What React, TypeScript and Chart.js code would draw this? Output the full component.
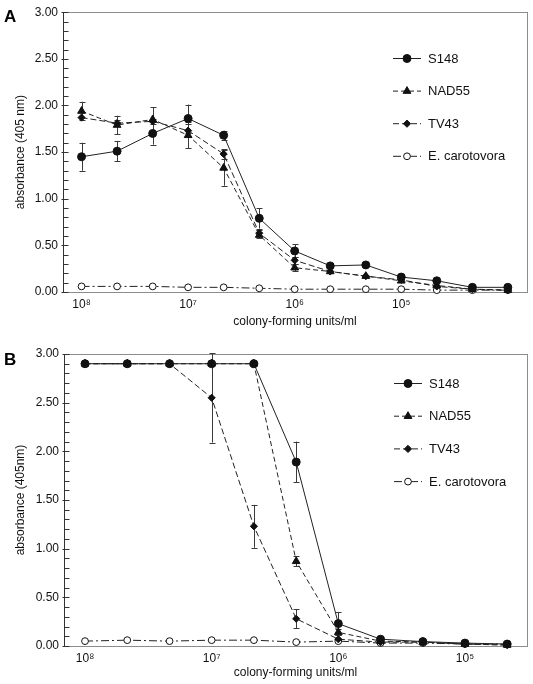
import React, { useEffect, useRef } from "react";
import { Chart, registerables } from "chart.js";
import { drawPoint } from "chart.js/helpers";

Chart.register(...registerables);

// ---------------- data ----------------
const seriesNames = ["S148", "NAD55", "TV43", "E. carotovora"];

// colony-forming units/ml (x categories)
const cfuA = [1e8, 4.64e7, 2.15e7, 1e7, 4.64e6, 2.15e6, 1e6, 4.64e5, 2.15e5, 1e5, 4.64e4, 2.15e4, 1e4];
const cfuB = [1e8, 4.64e7, 2.15e7, 1e7, 4.64e6, 2.15e6, 1e6, 4.64e5, 2.15e5, 1e5, 4.64e4];

const xTickValues = [1e8, 1e7, 1e6, 1e5];
const xTickLabels = ["10⁸", "10⁷", "10⁶", "10⁵"];
const yMajorLabels = ["0.00", "0.50", "1.00", "1.50", "2.00", "2.50", "3.00"];

// Panel A absorbance
const s148A = [1.45, 1.51, 1.70, 1.86, 1.68, 0.79, 0.44, 0.28, 0.29, 0.16, 0.12, 0.05, 0.05];
const nad55A = [1.94, 1.79, 1.85, 1.68, 1.33, 0.61, 0.26, 0.22, 0.17, 0.12, 0.07, 0.03, 0.02];
const tv43A = [1.87, 1.81, 1.83, 1.73, 1.48, 0.63, 0.34, 0.22, 0.17, 0.13, 0.06, 0.03, 0.02];
const ecA = [0.06, 0.06, 0.06, 0.05, 0.05, 0.04, 0.03, 0.03, 0.03, 0.03, 0.02, 0.02, 0.02];
const s148ErrA = [0.15, 0.11, 0.12, 0.15, 0.05, 0.11, 0.07, 0, 0, 0, 0, 0, 0];
const nad55ErrA = [0.10, 0.10, 0.13, 0.14, 0.19, 0.03, 0.04, 0, 0, 0, 0, 0, 0];
const tv43ErrA = [0, 0.03, 0.03, 0.07, 0.05, 0.03, 0.04, 0, 0, 0, 0, 0, 0];
const ecErrA = [0, 0, 0, 0, 0, 0, 0, 0, 0, 0, 0, 0, 0];

// Panel B absorbance
const s148B = [2.90, 2.90, 2.90, 2.90, 2.90, 1.89, 0.23, 0.07, 0.045, 0.03, 0.02];
const nad55B = [2.90, 2.90, 2.90, 2.90, 2.90, 0.87, 0.14, 0.05, 0.04, 0.02, 0.01];
const tv43B = [2.90, 2.90, 2.90, 2.55, 1.23, 0.28, 0.07, 0.04, 0.04, 0.02, 0.01];
const ecB = [0.05, 0.06, 0.05, 0.06, 0.06, 0.04, 0.05, 0.03, 0.03, 0.02, 0.02];
const s148ErrB = [0, 0, 0, 0, 0, 0.21, 0.12, 0, 0, 0, 0];
const nad55ErrB = [0, 0, 0, 0, 0, 0.05, 0.03, 0, 0, 0, 0];
const tv43ErrB = [0, 0, 0, 0.46, 0.22, 0.10, 0, 0, 0, 0, 0];
const ecErrB = [0, 0, 0, 0, 0, 0, 0, 0, 0, 0, 0];

// ---------------- styles ----------------
const FONT = "Arial, 'Liberation Sans', Helvetica, sans-serif";
const seriesStyle = [
  { dash: [] as number[], point: "circle", radius: 4, fill: "#111" },
  { dash: [5, 3], point: "triangle", radius: 4.5, fill: "#111" },
  { dash: [6, 3], point: "rectRot", radius: 3.6, fill: "#111" },
  { dash: [8, 3, 2, 3], point: "circle", radius: 3.4, fill: "#fff" },
];

// ---------------- plugins ----------------
const framePlugin = {
  id: "frame",
  beforeDatasetsDraw(chart: any) {
    const { ctx, chartArea: a, scales } = chart;
    ctx.save();
    ctx.lineWidth = 1;
    ctx.setLineDash([]);
    ctx.strokeStyle = "#8c8c8c";
    ctx.strokeRect(Math.round(a.left) + 0.5, Math.round(a.top) + 0.5, Math.round(a.right - a.left), Math.round(a.bottom - a.top));
    ctx.strokeStyle = "#333";
    const lx = Math.round(a.left) + 0.5;
    ctx.beginPath();
    ctx.moveTo(lx, a.top);
    ctx.lineTo(lx, a.bottom);
    ctx.stroke();
    const ys = scales.y;
    ys.ticks.forEach((t: any) => {
      const y = Math.round(ys.getPixelForValue(t.value)) + 0.5;
      const major = Math.abs(t.value * 2 - Math.round(t.value * 2)) < 1e-6;
      ctx.beginPath();
      ctx.moveTo(major ? lx - 2 : lx, y);
      ctx.lineTo(lx + 5, y);
      ctx.stroke();
    });
    // error bars
    ctx.strokeStyle = "#3a3a3a";
    chart.data.datasets.forEach((ds: any) => {
      const errs: number[] = ds.errors || [];
      ds.data.forEach((p: any, i: number) => {
        const e = errs[i];
        if (!e) return;
        const x = Math.round(scales.x.getPixelForValue(p.x)) + 0.5;
        const y1 = scales.y.getPixelForValue(p.y + e);
        const y2 = scales.y.getPixelForValue(p.y - e);
        ctx.beginPath();
        ctx.moveTo(x, y1);
        ctx.lineTo(x, y2);
        ctx.moveTo(x - 3, Math.round(y1) + 0.5);
        ctx.lineTo(x + 3, Math.round(y1) + 0.5);
        ctx.moveTo(x - 3, Math.round(y2) + 0.5);
        ctx.lineTo(x + 3, Math.round(y2) + 0.5);
        ctx.stroke();
      });
    });
    ctx.restore();
  },
};

const legendPlugin = {
  id: "boxLegend",
  afterDraw(chart: any) {
    const o = chart.options.plugins.boxLegend;
    if (!o) return;
    const { ctx } = chart;
    ctx.save();
    chart.data.datasets.forEach((ds: any, i: number) => {
      const y = o.y0 + i * o.dy;
      ctx.strokeStyle = "#222";
      ctx.lineWidth = 1;
      ctx.setLineDash(ds.borderDash || []);
      ctx.beginPath();
      ctx.moveTo(o.x, y + 0.5);
      ctx.lineTo(o.x + 28, y + 0.5);
      ctx.stroke();
      ctx.setLineDash([]);
      ctx.fillStyle = ds.pointBackgroundColor;
      ctx.strokeStyle = "#111";
      drawPoint(ctx, { pointStyle: ds.pointStyle, radius: ds.pointRadius, rotation: 0, borderWidth: 1 }, o.x + 14, y + 0.5);
      ctx.fillStyle = "#111";
      ctx.font = `13px ${FONT}`;
      ctx.textAlign = "left";
      ctx.textBaseline = "middle";
      ctx.fillText(ds.label, o.x + 35, y + 1);
    });
    ctx.restore();
  },
};

// ---------------- panel ----------------
type PanelProps = {
  width: number;
  height: number;
  areaLeft: number;
  areaTop: number;
  areaRight: number;
  areaBottom: number;
  xMin: number;
  xMax: number;
  cfu: number[];
  values: number[][];
  errors: number[][];
  yTitle: string;
  xTitlePadBottom: number;
  legendX: number;
  legendY0: number;
  legendDy: number;
};

function Panel(p: PanelProps) {
  const ref = useRef<HTMLCanvasElement | null>(null);
  useEffect(() => {
    if (!ref.current) return;
    const datasets = seriesNames.map((name, si) => ({
      label: name,
      data: p.cfu.map((x, i) => ({ x, y: p.values[si][i] })),
      errors: p.errors[si],
      borderColor: "#222",
      borderWidth: 1,
      borderDash: seriesStyle[si].dash,
      pointStyle: seriesStyle[si].point,
      pointRadius: seriesStyle[si].radius,
      pointBackgroundColor: seriesStyle[si].fill,
      pointBorderColor: "#111",
      pointBorderWidth: 1,
      tension: 0,
      fill: false,
      clip: false,
    }));
    const chart = new Chart(ref.current, {
      type: "line",
      data: { datasets: datasets as any },
      plugins: [framePlugin, legendPlugin],
      options: {
        animation: false,
        responsive: false,
        devicePixelRatio: 1,
        layout: { padding: { left: 0, top: p.areaTop, right: p.width - p.areaRight, bottom: 0 } },
        plugins: {
          legend: { display: false },
          tooltip: { enabled: false },
          boxLegend: { x: p.legendX, y0: p.legendY0, dy: p.legendDy },
        } as any,
        scales: {
          x: {
            type: "logarithmic",
            reverse: true,
            min: p.xMin,
            max: p.xMax,
            grid: { display: false, drawTicks: false },
            border: { display: false },
            afterBuildTicks: (s: any) => {
              s.ticks = xTickValues.map((v) => ({ value: v }));
            },
            afterFit: (s: any) => {
              s.height = p.height - p.areaBottom;
            },
            ticks: {
              autoSkip: false,
              maxRotation: 0,
              padding: 5,
              color: "#111",
              font: { family: FONT, size: 12 },
              callback: (v: any) => {
                const idx = xTickValues.findIndex((t) => Math.abs(Math.log10(t) - Math.log10(v)) < 1e-6);
                return idx >= 0 ? xTickLabels[idx] : "";
              },
            },
            title: {
              display: true,
              text: "colony-forming units/ml",
              color: "#111",
              font: { family: FONT, size: 12 },
              padding: { top: 0, bottom: p.xTitlePadBottom },
            },
          },
          y: {
            min: 0,
            max: 3,
            grid: { display: false, drawTicks: false },
            border: { display: false },
            afterFit: (s: any) => {
              s.width = p.areaLeft;
            },
            ticks: {
              stepSize: 0.1,
              autoSkip: false,
              padding: 5,
              color: "#111",
              font: { family: FONT, size: 12 },
              callback: (v: any) => {
                const k = Math.round(v * 2);
                if (Math.abs(v * 2 - k) > 1e-6) return "";
                return yMajorLabels[k] ?? "";
              },
            },
            title: {
              display: true,
              text: p.yTitle,
              color: "#111",
              font: { family: FONT, size: 12 },
              padding: { top: 13, bottom: 0 },
            },
          },
        },
      } as any,
    });
    return () => chart.destroy();
  }, []);
  return <canvas ref={ref} width={p.width} height={p.height} style={{ display: "block", width: p.width, height: p.height }} />;
}

const letterStyle: React.CSSProperties = {
  position: "absolute",
  left: 4,
  fontFamily: FONT,
  fontWeight: "bold",
  fontSize: 17,
  lineHeight: "17px",
  color: "#000",
};

export default function App() {
  return (
    <div style={{ position: "absolute", left: 0, top: 0, width: 533, height: 684, background: "#fff", overflow: "hidden" }}>
      <div style={{ position: "absolute", left: 0, top: 0 }}>
        <Panel
          width={533}
          height={340}
          areaLeft={63}
          areaTop={10}
          areaRight={527}
          areaBottom={292}
          xMin={Math.pow(10, 3.82)}
          xMax={Math.pow(10, 8.174)}
          cfu={cfuA}
          values={[s148A, nad55A, tv43A, ecA]}
          errors={[s148ErrA, nad55ErrA, tv43ErrA, ecErrA]}
          yTitle="absorbance (405 nm)"
          xTitlePadBottom={11}
          legendX={393}
          legendY0={58}
          legendDy={32.6}
        />
      </div>
      <div style={{ position: "absolute", left: 0, top: 340 }}>
        <Panel
          width={533}
          height={344}
          areaLeft={64}
          areaTop={14}
          areaRight={527}
          areaBottom={306}
          xMin={Math.pow(10, 4.51)}
          xMax={Math.pow(10, 8.166)}
          cfu={cfuB}
          values={[s148B, nad55B, tv43B, ecB]}
          errors={[s148ErrB, nad55ErrB, tv43ErrB, ecErrB]}
          yTitle="absorbance (405nm)"
          xTitlePadBottom={4}
          legendX={394}
          legendY0={43}
          legendDy={32.7}
        />
      </div>
      <div style={{ ...letterStyle, top: 8 }}>A</div>
      <div style={{ ...letterStyle, top: 351 }}>B</div>
    </div>
  );
}
